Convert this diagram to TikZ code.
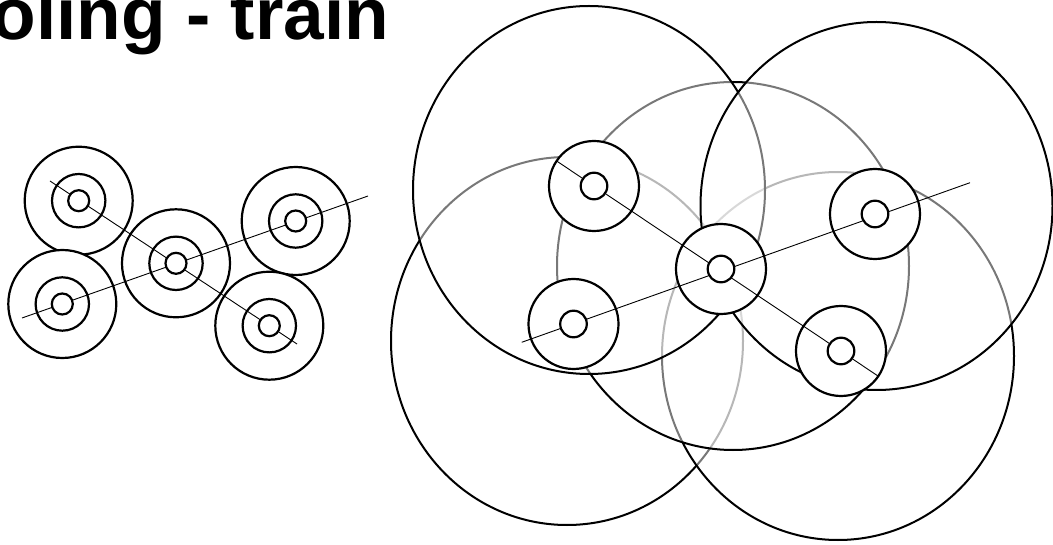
\documentclass[tikz,border=0pt]{standalone}
\usepackage{fontspec}
\setmainfont{Liberation Sans}
\usetikzlibrary{shapes.geometric}

\begin{document}
\begin{tikzpicture}[
  x=1pt, y=-1pt,
  every node/.style={inner sep=0pt, outer sep=0pt},
  cover/.style={ellipse, draw, line width=2pt, fill=white, fill opacity=0.47, draw opacity=1,
                minimum width=352pt, minimum height=368pt},
  disc/.style={circle, draw, line width=2.2pt, fill=white, minimum size=108pt},
  ring/.style={circle, draw, line width=2.2pt, minimum size=53.4pt},
  hole/.style={circle, draw, line width=2.2pt, fill=white, minimum size=21pt},
  bigdisc/.style={circle, draw, line width=2.2pt, fill=white, minimum size=90pt},
  bighole/.style={circle, draw, line width=2.2pt, fill=white, minimum size=26.6pt},
  axis/.style={line width=0.9pt},
]
\useasboundingbox (0,0) rectangle (1053,545);
\clip (0,0) rectangle (1053,545);

% Title (cut at the frame)
\node[anchor=base east, font=\bfseries\fontsize{73}{73}\selectfont] (title) at (389,40) {oling - train};

% Left - outer circles
\node[disc] (lTL) at (78.7,200.7) {};
\node[disc] (lBL) at (62.3,304)   {};
\node[disc] (lC)  at (176,263.3)  {};
\node[disc] (lTR) at (295.7,221)  {};
\node[disc] (lBR) at (269.3,325.7) {};

% Left - middle rings
\foreach \n in {lTL,lBL,lC,lTR,lBR}
  \node[ring] at (\n) {};

% Left - axes
\coordinate (lA1) at (50,181);
\coordinate (lA2) at (297,344);
\coordinate (lB1) at (22,318);
\coordinate (lB2) at (368,196);
\draw[axis] (lA1) -- (lA2);
\draw[axis] (lB1) -- (lB2);

% Left - holes
\foreach \n in {lTL,lBL,lC,lTR,lBR}
  \node[hole] at (\n) {};

% Right - big fields (back to front)
\node[cover] (fD) at (567,341) {};
\node[cover] (fE) at (838,356) {};
\node[cover] (fC) at (733,266) {};
\node[cover] (fA) at (589,190) {};
\node[cover] (fB) at (876.5,206) {};

% Right - discs
\node[bigdisc] (rTL) at (594,186)   {};
\node[bigdisc] (rBL) at (573.5,324) {};
\node[bigdisc] (rC)  at (721,269)   {};
\node[bigdisc] (rTR) at (875,214)   {};
\node[bigdisc] (rBR) at (841,351)   {};

% Right - axes
\coordinate (rA1) at (556.6,161);
\coordinate (rA2) at (878,376);
\coordinate (rB1) at (521.7,342.3);
\coordinate (rB2) at (970,182.7);
\draw[axis] (rA1) -- (rA2);
\draw[axis] (rB1) -- (rB2);

% Right - holes
\foreach \n in {rTL,rBL,rC,rTR,rBR}
  \node[bighole] at (\n) {};

\end{tikzpicture}
\end{document}
